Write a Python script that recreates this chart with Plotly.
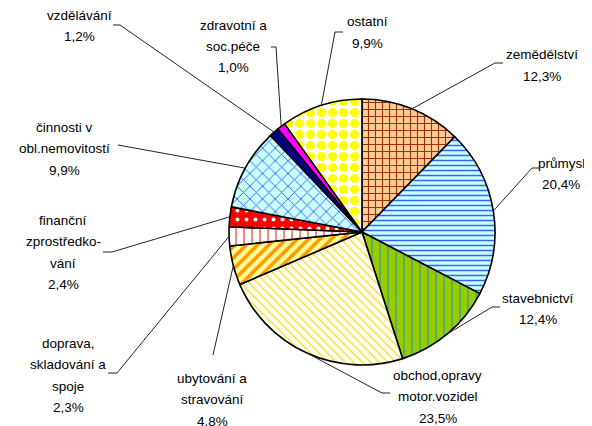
import math

import plotly.graph_objects as go

W, H = 592, 426
OFF = 8  # page body margin that the browser adds round the figure

# data, clockwise from 12 o'clock
categories = [
    "zemědělství",
    "průmysl",
    "stavebnictví",
    "obchod,opravy\nmotor.vozidel",
    "ubytování a\nstravování",
    "doprava,\nskladování a\nspoje",
    "finanční\nzprostředko-\nvání",
    "činnosti v\nobl.nemovitostí",
    "vzdělávání",
    "zdravotní a\nsoc.péče",
    "ostatní",
]
shares = [12.3, 20.4, 12.4, 23.5, 4.8, 2.3, 2.4, 9.9, 1.2, 1.0, 9.9]
pct_labels = ["12,3%", "20,4%", "12,4%", "23,5%", "4,8%", "2,3%", "2,4%", "9,9%", "1,2%", "1,0%", "9,9%"]

# fills: background colour, pattern shape, pattern colour, pattern size, solidity
BG_COLORS = ["#ffcc99", "#ccffff", "#99cc00", "#fffff0", "#ffff99", "#ffffff", "#ff0000", "#ccffff", "#000080", "#ff00ff", "#ffffff"]
PAT_SHAPES = ["+", "-", "|", "\\", "/", "|", ".", "x", "", "", "."]
PAT_COLORS = ["#993300", "#3366ff", "#339999", "#ffcc00", "#ff9900", "#ff3333", "#ffffff", "#3366ff", "#000080", "#ff00ff", "#ffff00"]
PAT_SIZES = [7, 5, 8, 6, 8, 8, 9, 9, 8, 8, 11]
PAT_SOLID = [0.3, 0.3, 0.15, 0.18, 0.45, 0.15, 0.15, 0.2, 0.3, 0.3, 0.55]

# pie geometry in window pixels
CX, CY, R = 362, 232, 133

# label layout (window pixels): text centre x, first line y, leader line end (x, y), elbow x
label_pos = [
    (542, 55, (495, 63), 503),
    (561, 163, (532, 168), 539),
    (538, 298, (492, 307), 500),
    (438, 375, (382, 393), 390),
    (212, 378, (213, 355), 213),
    (68, 343, (117, 373), 108),
    (63, 220, (112, 252), 103),
    (64, 127, (118, 145), 118),
    (79, 15, (120, 25), 113),
    (233, 25, (276, 47), 271),
    (367, 22, (335, 32), 343),
]
LINE_H = 21.5

FW, FH = W - OFF, H - OFF


def px(x):
    return (x - OFF) / FW


def py(y):
    return 1 - (y - OFF) / FH


fig = go.Figure(
    go.Pie(
        labels=[c.replace("\n", " ") for c in categories],
        values=shares,
        sort=False,
        direction="clockwise",
        rotation=0,
        textinfo="none",
        hoverinfo="label+percent",
        marker=dict(
            colors=BG_COLORS,
            line=dict(color="#000000", width=1.6),
            pattern=dict(
                shape=PAT_SHAPES,
                fgcolor=PAT_COLORS,
                bgcolor=BG_COLORS,
                size=PAT_SIZES,
                solidity=PAT_SOLID,
            ),
        ),
        domain=dict(x=[px(CX - R), px(CX + R)], y=[py(CY + R), py(CY - R)]),
        showlegend=False,
    )
)

shapes = []
annotations = []
total = sum(shares)
cum = 0.0
for name, val, pct, (tx, ty, (lx, ly), ex) in zip(categories, shares, pct_labels, label_pos):
    mid = (cum + val / 2) / total * 2 * math.pi
    cum += val
    edge_x = CX + R * math.sin(mid)
    edge_y = CY - R * math.cos(mid)
    shapes.append(dict(type="line", xref="paper", yref="paper",
                       x0=px(edge_x), y0=py(edge_y), x1=px(lx), y1=py(ly),
                       line=dict(color="#222222", width=1)))
    if ex != lx:
        shapes.append(dict(type="line", xref="paper", yref="paper",
                           x0=px(lx), y0=py(ly), x1=px(ex), y1=py(ly),
                           line=dict(color="#222222", width=1)))
    lines = name.split("\n") + [pct]
    for i, t in enumerate(lines):
        annotations.append(dict(
            text=t, xref="paper", yref="paper",
            x=px(tx), y=py(ty + i * LINE_H),
            xanchor="center", yanchor="middle", showarrow=False,
            font=dict(size=13.5, color="#000000"),
        ))

fig.update_layout(
    width=FW,
    height=FH,
    margin=dict(l=0, r=0, t=0, b=0),
    paper_bgcolor="#ffffff",
    plot_bgcolor="#ffffff",
    font=dict(family="Liberation Sans, Arial, sans-serif", size=13.5, color="#000000"),
    shapes=shapes,
    annotations=annotations,
)

fig.write_html("out.html")
